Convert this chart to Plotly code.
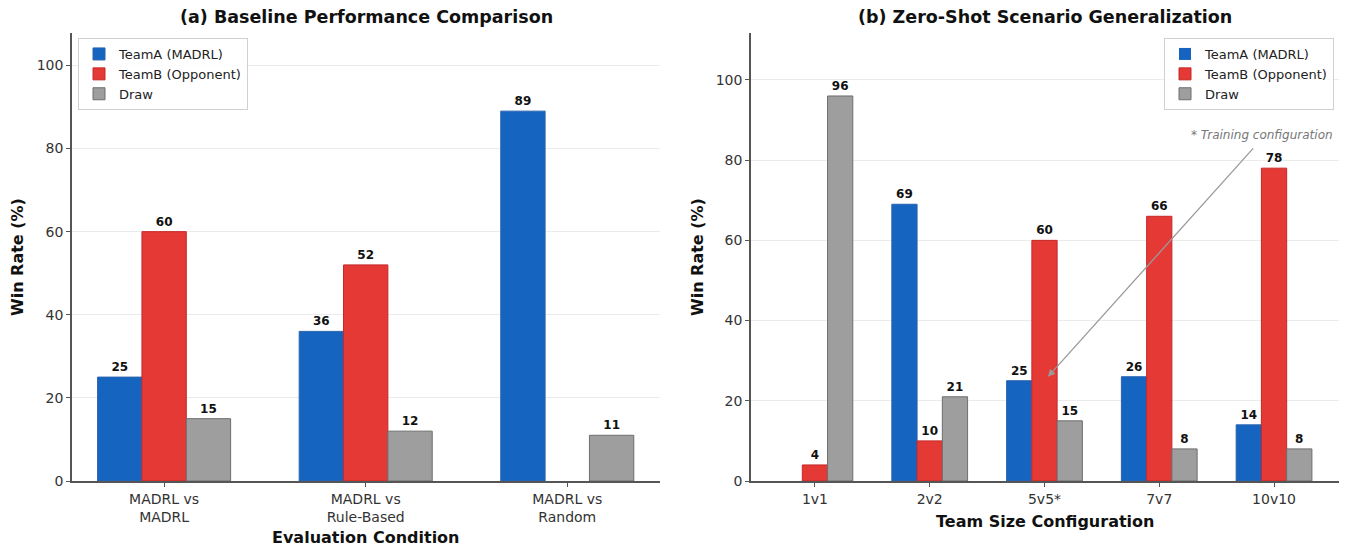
import plotly.graph_objects as go

# Panel (a): baseline evaluation
conditions = ["MADRL vs<br>MADRL", "MADRL vs<br>Rule-Based", "MADRL vs<br>Random"]
base_team_a = [25, 36, 89]
base_team_b = [60, 52, 0]
base_draw = [15, 12, 11]

# Panel (b): zero-shot team sizes
team_sizes = ["1v1", "2v2", "5v5*", "7v7", "10v10"]
zs_team_a = [0, 69, 25, 26, 14]
zs_team_b = [4, 10, 60, 66, 78]
zs_draw = [96, 21, 15, 8, 8]

series_names = ["TeamA (MADRL)", "TeamB (Opponent)", "Draw"]
fills = ["#1565C0", "#E53935", "#9E9E9E"]
edges = ["#2A62AE", "#C62828", "#6E6E6E"]

FONT = "DejaVu Sans"
W, H = 1347, 548


def px_x(p):
    return p / W


def px_y(p):
    return 1 - p / H


def labels(vals):
    return [str(v) if v > 0 else "" for v in vals]


def edge_widths(vals):
    # no outline on empty bars
    return [1 if v > 0 else 0 for v in vals]


fig = go.Figure()

for name, vals, fc, ec in zip(series_names, [base_team_a, base_team_b, base_draw], fills, edges):
    fig.add_trace(go.Bar(
        x=conditions, y=vals, name=name, legend="legend",
        marker=dict(color=fc, line=dict(color=ec, width=edge_widths(vals))),
        text=labels(vals), textposition="outside", cliponaxis=False,
        textfont=dict(family=FONT, size=12, color="#111", weight="bold"),
        xaxis="x", yaxis="y",
    ))

for name, vals, fc, ec in zip(series_names, [zs_team_a, zs_team_b, zs_draw], fills, edges):
    fig.add_trace(go.Bar(
        x=team_sizes, y=vals, name=name, legend="legend2",
        marker=dict(color=fc, line=dict(color=ec, width=edge_widths(vals))),
        text=labels(vals), textposition="outside", cliponaxis=False,
        textfont=dict(family=FONT, size=12, color="#111", weight="bold"),
        xaxis="x2", yaxis="y2",
    ))

axis_common = dict(
    showline=True, linecolor="#555", linewidth=1.5,
    ticks="outside", ticklen=4, tickwidth=1.2, tickcolor="#555",
    tickfont=dict(family=FONT, size=14, color="#333"),
    zeroline=False, automargin=False,
)

y_dom = [px_y(481), px_y(33)]

fig.update_layout(
    width=W, height=H,
    margin=dict(l=0, r=0, t=0, b=0, autoexpand=False),
    paper_bgcolor="white", plot_bgcolor="white",
    barmode="group", bargap=0.34, bargroupgap=0,
    font=dict(family=FONT, color="#222"),
    xaxis=dict(domain=[px_x(72), px_x(660)], range=[-0.457, 2.46], type="category",
               showgrid=False, anchor="y", **axis_common),
    yaxis=dict(domain=y_dom, range=[0, 107.8], tickvals=[0, 20, 40, 60, 80, 100],
               showgrid=True, gridcolor="#ebebeb", gridwidth=1, anchor="x", **axis_common),
    xaxis2=dict(domain=[px_x(751), px_x(1339)], range=[-0.557, 4.566], type="category",
                showgrid=False, anchor="y2", **axis_common),
    yaxis2=dict(domain=y_dom, range=[0, 111.7], tickvals=[0, 20, 40, 60, 80, 100],
                showgrid=True, gridcolor="#ebebeb", gridwidth=1, anchor="x2", **axis_common),
    legend=dict(x=px_x(78), y=px_y(38), xanchor="left", yanchor="top",
                bgcolor="rgba(255,255,255,0.85)", bordercolor="#d0d0d0", borderwidth=1,
                font=dict(family=FONT, size=13, color="#222"), tracegroupgap=0),
    legend2=dict(x=px_x(1334), y=px_y(38), xanchor="right", yanchor="top",
                 bgcolor="rgba(255,255,255,0.85)", bordercolor="#d0d0d0", borderwidth=1,
                 font=dict(family=FONT, size=13, color="#222"), tracegroupgap=0),
)

annotations = [
    # panel titles
    dict(text="<b>(a) Baseline Performance Comparison</b>", x=px_x(366), y=px_y(17),
         xref="paper", yref="paper", showarrow=False, xanchor="center", yanchor="middle",
         font=dict(family=FONT, size=17.5, color="#111")),
    dict(text="<b>(b) Zero-Shot Scenario Generalization</b>", x=px_x(1045), y=px_y(17),
         xref="paper", yref="paper", showarrow=False, xanchor="center", yanchor="middle",
         font=dict(family=FONT, size=17.5, color="#111")),
    # axis titles
    dict(text="<b>Evaluation Condition</b>", x=px_x(366), y=px_y(537),
         xref="paper", yref="paper", showarrow=False, xanchor="center", yanchor="middle",
         font=dict(family=FONT, size=16, color="#111")),
    dict(text="<b>Team Size Configuration</b>", x=px_x(1045), y=px_y(521),
         xref="paper", yref="paper", showarrow=False, xanchor="center", yanchor="middle",
         font=dict(family=FONT, size=16, color="#111")),
    dict(text="<b>Win Rate (%)</b>", x=px_x(17), y=px_y(257), textangle=-90,
         xref="paper", yref="paper", showarrow=False, xanchor="center", yanchor="middle",
         font=dict(family=FONT, size=16, color="#111")),
    dict(text="<b>Win Rate (%)</b>", x=px_x(697), y=px_y(257), textangle=-90,
         xref="paper", yref="paper", showarrow=False, xanchor="center", yanchor="middle",
         font=dict(family=FONT, size=16, color="#111")),
    # training configuration note and pointer
    dict(text="<i>* Training configuration</i>", x=4.53, y=86.3, xref="x2", yref="y2",
         showarrow=False, xanchor="right", yanchor="middle",
         font=dict(family=FONT, size=12, color="#777")),
    dict(text="", x=2.03, y=26, ax=3.83, ay=83.3, xref="x2", yref="y2",
         axref="x2", ayref="y2", showarrow=True, arrowhead=2, arrowsize=1.1,
         arrowwidth=1.3, arrowcolor="#9a9a9a"),
]
fig.update_layout(annotations=annotations)

fig.write_html("out.html")
